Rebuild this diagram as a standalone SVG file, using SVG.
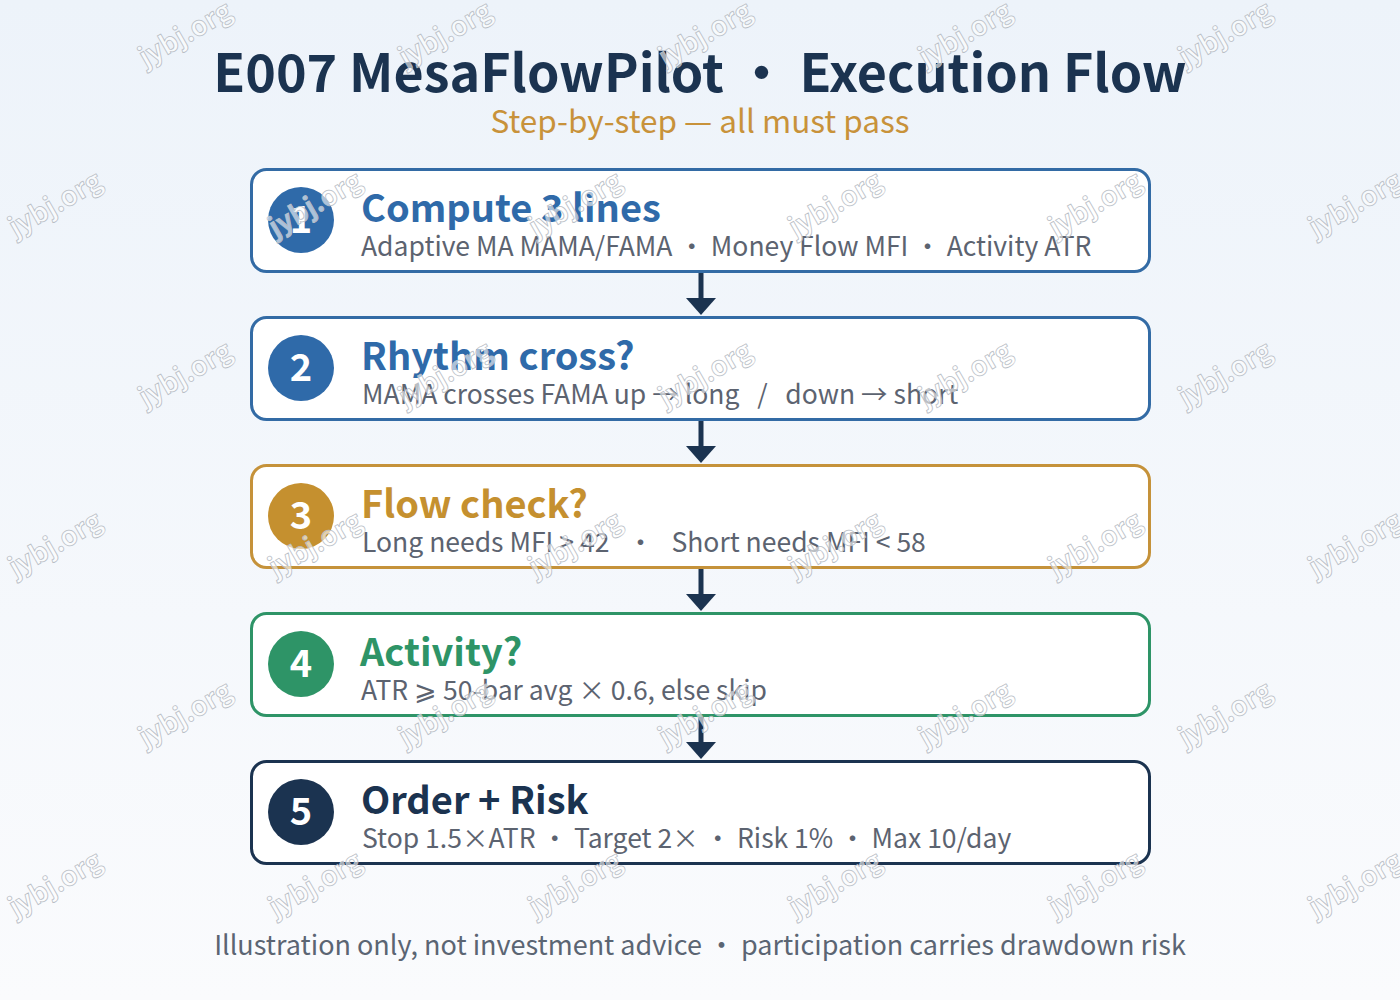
<svg xmlns="http://www.w3.org/2000/svg" width="1400" height="1000" viewBox="0 0 1400 1000">
<defs>
<linearGradient id="bg" x1="0" y1="0" x2="0" y2="1">
<stop offset="0" stop-color="#edf3fa"/>
<stop offset="1" stop-color="#fafbfd"/>
</linearGradient>
<path id="head" d="M-15,0 L15,0 L0,17 Z"/>
</defs>
<style>
text{font-family:"Noto Sans CJK SC","Source Sans Pro","Noto Sans",sans-serif;white-space:pre}
.title{font-size:52px;font-weight:700;fill:#1b3350}
.sub{font-size:31.5px;fill:#c8923a}
.box{fill:#ffffff;stroke-width:3}
.num{font-size:38px;font-weight:700;fill:#ffffff}
.h{font-size:38px;font-weight:700}
.d{font-size:26.5px;fill:#5c6370}
.foot{font-size:27px;fill:#5b6573}
.wm{font-size:27px;font-weight:700;fill:#ffffff;fill-opacity:0.6;stroke:#b9bec6;stroke-width:0.8}
.conn{stroke:#1b3350;stroke-width:5;fill:none}
.arrowhead{fill:#1b3350}
</style>
<rect width="1400" height="1000" fill="url(#bg)"/>
<text class="title" x="700" y="92" text-anchor="middle">E007 MesaFlowPilot • Execution Flow</text>
<text class="sub" x="700" y="133" text-anchor="middle">Step-by-step — all must pass</text>

<g id="connectors">
<line class="conn" x1="701" y1="273" x2="701" y2="300"/>
<use href="#head" class="arrowhead" x="701" y="298"/>
<line class="conn" x1="701" y1="421" x2="701" y2="448"/>
<use href="#head" class="arrowhead" x="701" y="446"/>
<line class="conn" x1="701" y1="569" x2="701" y2="596"/>
<use href="#head" class="arrowhead" x="701" y="594"/>
<line class="conn" x1="701" y1="717" x2="701" y2="744"/>
<use href="#head" class="arrowhead" x="701" y="742"/>
</g>

<g id="step1">
<rect class="box" x="251.5" y="169.5" width="898" height="102" rx="15" stroke="#336ba5"/>
<circle cx="301" cy="220" r="33" fill="#2f6aa9"/>
<text class="num" x="301" y="233" text-anchor="middle">1</text>
<text class="h" x="361" y="222" fill="#2f6aa9">Compute 3 lines</text>
<text class="d" x="361" y="256">Adaptive MA MAMA/FAMA • Money Flow MFI • Activity ATR</text>
</g>
<g id="step2">
<rect class="box" x="251.5" y="317.5" width="898" height="102" rx="15" stroke="#336ba5"/>
<circle cx="301" cy="368" r="33" fill="#2f6aa9"/>
<text class="num" x="301" y="381" text-anchor="middle">2</text>
<text class="h" x="361" y="370" fill="#2f6aa9">Rhythm cross?</text>
<text class="d" x="362" y="404">MAMA crosses FAMA up → long   /   down → short</text>
</g>
<g id="step3">
<rect class="box" x="251.5" y="465.5" width="898" height="102" rx="15" stroke="#c5923a"/>
<circle cx="301" cy="516" r="33" fill="#c5902f"/>
<text class="num" x="301" y="529" text-anchor="middle">3</text>
<text class="h" x="361" y="518" fill="#c5902f">Flow check?</text>
<text class="d" x="362" y="552">Long needs MFI &gt; 42   •   Short needs MFI &lt; 58</text>
</g>
<g id="step4">
<rect class="box" x="251.5" y="613.5" width="898" height="102" rx="15" stroke="#2e9467"/>
<circle cx="301" cy="664" r="33" fill="#2e9467"/>
<text class="num" x="301" y="677" text-anchor="middle">4</text>
<text class="h" x="360" y="666" fill="#2e9467">Activity?</text>
<text class="d" x="361" y="700">ATR ⩾ 50-bar avg × 0.6, else skip</text>
</g>
<g id="step5">
<rect class="box" x="251.5" y="761.5" width="898" height="102" rx="15" stroke="#1b3350"/>
<circle cx="301" cy="812" r="33" fill="#1b3350"/>
<text class="num" x="301" y="825" text-anchor="middle">5</text>
<text class="h" x="361" y="814" fill="#1b3350">Order + Risk</text>
<text class="d" x="362" y="848">Stop 1.5×ATR • Target 2× • Risk 1% • Max 10/day</text>
</g>

<text class="foot" x="700" y="955" text-anchor="middle">Illustration only, not investment advice • participation carries drawdown risk</text>

<g id="watermarks">
<text class="wm" transform="translate(190,42) rotate(-30)" text-anchor="middle">jybj.org</text>
<text class="wm" transform="translate(450,42) rotate(-30)" text-anchor="middle">jybj.org</text>
<text class="wm" transform="translate(710,42) rotate(-30)" text-anchor="middle">jybj.org</text>
<text class="wm" transform="translate(970,42) rotate(-30)" text-anchor="middle">jybj.org</text>
<text class="wm" transform="translate(1230,42) rotate(-30)" text-anchor="middle">jybj.org</text>
<text class="wm" transform="translate(60,212) rotate(-30)" text-anchor="middle">jybj.org</text>
<text class="wm" transform="translate(320,212) rotate(-30)" text-anchor="middle">jybj.org</text>
<text class="wm" transform="translate(580,212) rotate(-30)" text-anchor="middle">jybj.org</text>
<text class="wm" transform="translate(840,212) rotate(-30)" text-anchor="middle">jybj.org</text>
<text class="wm" transform="translate(1100,212) rotate(-30)" text-anchor="middle">jybj.org</text>
<text class="wm" transform="translate(1360,212) rotate(-30)" text-anchor="middle">jybj.org</text>
<text class="wm" transform="translate(190,382) rotate(-30)" text-anchor="middle">jybj.org</text>
<text class="wm" transform="translate(450,382) rotate(-30)" text-anchor="middle">jybj.org</text>
<text class="wm" transform="translate(710,382) rotate(-30)" text-anchor="middle">jybj.org</text>
<text class="wm" transform="translate(970,382) rotate(-30)" text-anchor="middle">jybj.org</text>
<text class="wm" transform="translate(1230,382) rotate(-30)" text-anchor="middle">jybj.org</text>
<text class="wm" transform="translate(60,552) rotate(-30)" text-anchor="middle">jybj.org</text>
<text class="wm" transform="translate(320,552) rotate(-30)" text-anchor="middle">jybj.org</text>
<text class="wm" transform="translate(580,552) rotate(-30)" text-anchor="middle">jybj.org</text>
<text class="wm" transform="translate(840,552) rotate(-30)" text-anchor="middle">jybj.org</text>
<text class="wm" transform="translate(1100,552) rotate(-30)" text-anchor="middle">jybj.org</text>
<text class="wm" transform="translate(1360,552) rotate(-30)" text-anchor="middle">jybj.org</text>
<text class="wm" transform="translate(190,722) rotate(-30)" text-anchor="middle">jybj.org</text>
<text class="wm" transform="translate(450,722) rotate(-30)" text-anchor="middle">jybj.org</text>
<text class="wm" transform="translate(710,722) rotate(-30)" text-anchor="middle">jybj.org</text>
<text class="wm" transform="translate(970,722) rotate(-30)" text-anchor="middle">jybj.org</text>
<text class="wm" transform="translate(1230,722) rotate(-30)" text-anchor="middle">jybj.org</text>
<text class="wm" transform="translate(60,892) rotate(-30)" text-anchor="middle">jybj.org</text>
<text class="wm" transform="translate(320,892) rotate(-30)" text-anchor="middle">jybj.org</text>
<text class="wm" transform="translate(580,892) rotate(-30)" text-anchor="middle">jybj.org</text>
<text class="wm" transform="translate(840,892) rotate(-30)" text-anchor="middle">jybj.org</text>
<text class="wm" transform="translate(1100,892) rotate(-30)" text-anchor="middle">jybj.org</text>
<text class="wm" transform="translate(1360,892) rotate(-30)" text-anchor="middle">jybj.org</text>
</g>
</svg>
